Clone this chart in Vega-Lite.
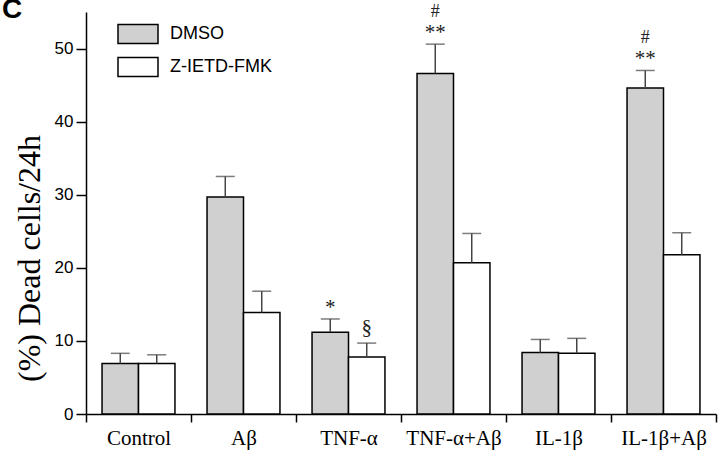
{
  "$schema": "https://vega.github.io/schema/vega-lite/v6.json",
  "width": 630,
  "height": 402,
  "autosize": "none",
  "padding": {"left": 86, "top": 12, "right": 4, "bottom": 36},
  "background": "white",
  "title": {"text": "C", "anchor": "start", "frame": "group", "orient": "top", "font": "Liberation Sans", "fontSize": 28, "fontWeight": "bold", "color": "black", "baseline": "top", "offset": -21, "dx": -84},
  "data": {"values": [
    {"cat": "Control", "grp": "DMSO", "value": 6.9, "hi": 8.3, "star": "", "hash": "", "sect": ""},
    {"cat": "Control", "grp": "Z-IETD-FMK", "value": 6.9, "hi": 8.1, "star": "", "hash": "", "sect": ""},
    {"cat": "Aβ", "grp": "DMSO", "value": 29.7, "hi": 32.5, "star": "", "hash": "", "sect": ""},
    {"cat": "Aβ", "grp": "Z-IETD-FMK", "value": 13.9, "hi": 16.8, "star": "", "hash": "", "sect": ""},
    {"cat": "TNF-α", "grp": "DMSO", "value": 11.2, "hi": 13.0, "star": "*", "hash": "", "sect": ""},
    {"cat": "TNF-α", "grp": "Z-IETD-FMK", "value": 7.8, "hi": 9.7, "star": "", "hash": "", "sect": "§"},
    {"cat": "TNF-α+Aβ", "grp": "DMSO", "value": 46.6, "hi": 50.6, "star": "**", "hash": "#", "sect": ""},
    {"cat": "TNF-α+Aβ", "grp": "Z-IETD-FMK", "value": 20.7, "hi": 24.7, "star": "", "hash": "", "sect": ""},
    {"cat": "IL-1β", "grp": "DMSO", "value": 8.4, "hi": 10.2, "star": "", "hash": "", "sect": ""},
    {"cat": "IL-1β", "grp": "Z-IETD-FMK", "value": 8.3, "hi": 10.35, "star": "", "hash": "", "sect": ""},
    {"cat": "IL-1β+Aβ", "grp": "DMSO", "value": 44.6, "hi": 47.0, "star": "**", "hash": "#", "sect": ""},
    {"cat": "IL-1β+Aβ", "grp": "Z-IETD-FMK", "value": 21.8, "hi": 24.8, "star": "", "hash": "", "sect": ""}
  ]},
  "encoding": {
    "x": {"field": "cat", "type": "nominal", "sort": null,
      "scale": {"paddingInner": 0, "paddingOuter": 0},
      "axis": {"title": null, "labelAngle": 0, "tickBand": "extent", "labelFont": "Liberation Serif", "labelFontSize": 21, "labelColor": "black", "labelPadding": 5, "tickSize": 8, "tickColor": "black", "tickWidth": 1.5, "domainColor": "black", "domainWidth": 1.5}},
    "xOffset": {"field": "grp", "type": "nominal", "scale": {"paddingInner": 0, "paddingOuter": 0.44}}
  },
  "layer": [
    {
      "mark": {"type": "bar", "stroke": "black", "strokeWidth": 1.5},
      "encoding": {
        "y": {"field": "value", "type": "quantitative",
          "scale": {"domain": [0, 55], "nice": false},
          "axis": {"title": "(%) Dead cells/24h", "titleFont": "Liberation Serif", "titleFontSize": 32, "titleFontWeight": "normal", "titleColor": "black",
            "titleX": -57, "titleY": 246, "titleBaseline": "middle", "titleAlign": "center", "titleAngle": -90,
            "values": [0, 5, 10, 15, 20, 25, 30, 35, 40, 45, 50, 55],
            "labelExpr": "datum.value % 10 === 0 ? datum.label : ''",
            "labelFont": "Liberation Sans", "labelFontSize": 17, "labelColor": "black", "labelPadding": 3,
            "tickSize": {"condition": {"test": "datum.value % 10 === 0", "value": 10}, "value": 4},
            "tickColor": "black", "tickWidth": 1.5, "domainColor": "black", "domainWidth": 1.5, "grid": false}},
        "fill": {"field": "grp", "type": "nominal",
          "scale": {"domain": ["DMSO", "Z-IETD-FMK"], "range": ["#d0d0d0", "#ffffff"]},
          "legend": {"title": null, "orient": "none", "legendX": 41, "legendY": 11, "padding": 0,
            "symbolType": "M-2,-0.95H2V0.95H-2Z", "symbolSize": 400, "symbolStrokeColor": "black", "symbolStrokeWidth": 1.5,
            "labelFont": "Liberation Sans", "labelFontSize": 18, "labelColor": "black", "labelOffset": 21, "rowPadding": 7}}
      }
    },
    {
      "mark": {"type": "rule", "color": "#444", "strokeWidth": 1.5},
      "encoding": {"y": {"field": "value", "type": "quantitative"}, "y2": {"field": "hi"}}
    },
    {
      "mark": {"type": "tick", "color": "#444", "thickness": 1.5, "size": 19},
      "encoding": {"y": {"field": "hi", "type": "quantitative"}}
    },
    {
      "mark": {"type": "text", "font": "Liberation Serif", "fontSize": 21, "baseline": "bottom", "dy": -1, "color": "#222"},
      "encoding": {"y": {"field": "hi", "type": "quantitative"}, "text": {"field": "star"}}
    },
    {
      "mark": {"type": "text", "font": "Liberation Serif", "fontSize": 18, "baseline": "bottom", "dy": -23, "color": "#222"},
      "encoding": {"y": {"field": "hi", "type": "quantitative"}, "text": {"field": "hash"}}
    },
    {
      "mark": {"type": "text", "font": "Liberation Serif", "fontSize": 21, "baseline": "bottom", "dy": -5, "color": "#222"},
      "encoding": {"y": {"field": "hi", "type": "quantitative"}, "text": {"field": "sect"}}
    }
  ],
  "config": {"view": {"stroke": null}}
}
